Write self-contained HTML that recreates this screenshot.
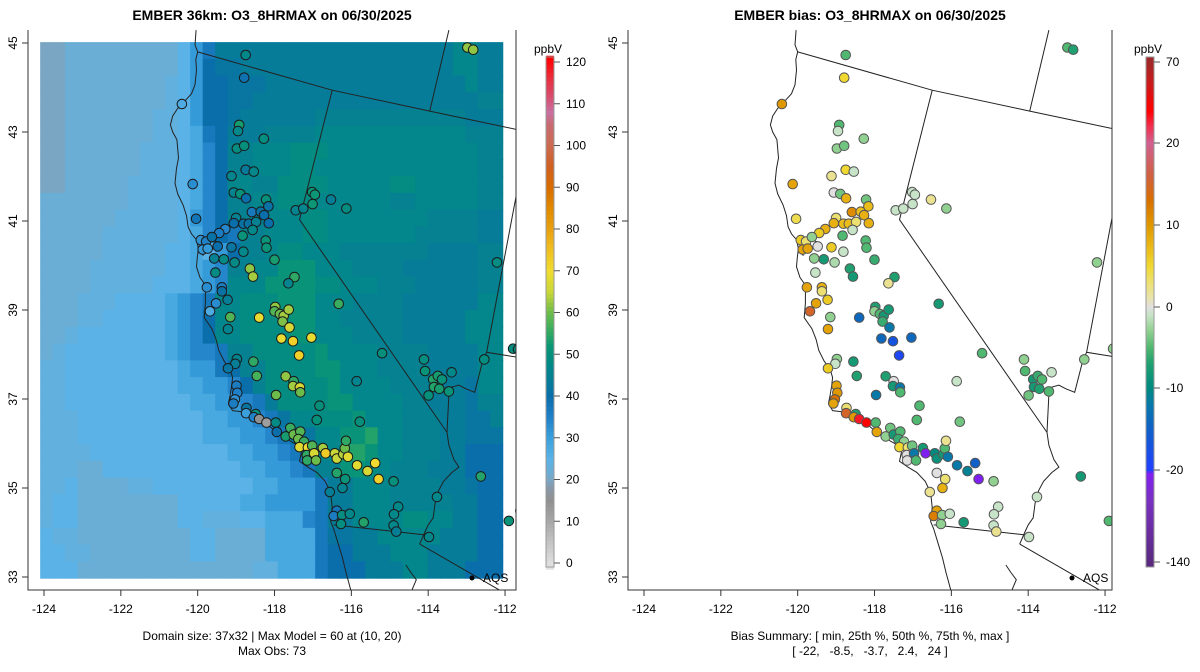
<!DOCTYPE html>
<html><head><meta charset="utf-8"><style>
html,body{margin:0;padding:0;background:#fff;}
svg{display:block;font-family:"Liberation Sans",sans-serif;}
</style></head><body>
<svg id="chart" width="1200" height="672" viewBox="0 0 1200 672" xmlns="http://www.w3.org/2000/svg">
<defs>
<clipPath id="clipL"><rect x="28" y="30" width="488" height="560"/></clipPath>
<clipPath id="clipR"><rect x="628" y="30" width="484" height="560"/></clipPath>
</defs>
<text x="272" y="20" text-anchor="middle" font-weight="bold" font-size="14">EMBER 36km: O3_8HRMAX on 06/30/2025</text>
<text x="870" y="20" text-anchor="middle" font-weight="bold" font-size="14">EMBER bias: O3_8HRMAX on 06/30/2025</text>
<g id="left" clip-path="url(#clipL)"></g>
<g id="right" clip-path="url(#clipR)"></g>
<g id="axes"></g>
<g id="cbars"></g>
<text x="272" y="640" text-anchor="middle" font-size="12">Domain size: 37x32 | Max Model = 60 at (10, 20)</text>
<text x="272" y="655" text-anchor="middle" font-size="12">Max Obs: 73</text>
<text x="870" y="640" text-anchor="middle" font-size="12">Bias Summary: [ min, 25th %, 50th %, 75th %, max ]</text>
<text x="870" y="655" text-anchor="middle" font-size="12" xml:space="preserve">[ -22,   -8.5,   -3.7,   2.4,   24 ]</text>
</svg>
<script>
const gridRows = [
"a2b9d1f1h1k19m2k2","a2b9d1f1i1j2k17m2k2","a2b8c1d1f1i2j3k16m1k2","a2b8c1d1f1i2j2k18l2",
"a2b7c2d1f1i2j1k6l12k3","a2b7c2d1e1h1i1k3l4m12l3","a2b6c3d1e1g1i1l2m3n3m12l2","a2b6c3d1e1g1i1l2m3n2m13l2",
"a2b5c4d1e1g1i1m2l2n4m5n2m5l2","b7c4d1e1g1i1l2m2n3m6l2m5l2","b6c5d1f1g1i1l3m3n2m8l4k2","b5c6d1e1g1i1h1l2m3n2m7l5k2",
"b5c5d2e1d1f1i1l2m1n2m3l7k4l2","b4c6d2e1f1g1l2m2o3m3l4k6l2","b4c5d3e1f1g1m3o4n2m3l3k5l2","b3c3d4e1f1g1h1m2n3o3m3l4k6m2",
"b3c2d5e1f1g1i1m2n4o2m2l5k5m3","b2c1d7e1f1g1i1m2n4o2m3l4k5m3","b1c1d8e1f1g2h1l2n5o1m4l4k4m2","c2d9e1f2h1i1l2n4o2m3l4k4m2",
"c2d9e2f2g1i1l1n5o1m4l3k3j1m2","c2d10e2f2g1h1k1n4o2m4l2k3j1l2","c3d10e2f2g1h1j1m2n3o1m3l3k2j2l1","c3d10e3f2g1h1j2m2o2p1m2l3k2j3",
"c4d11e2f2g1h1k1m2p2o1m2l3k2i3","c3b2d11e2f2g1h1l2o2n1m1l3k3i3","c2d1b4c2d8e2f3h1k2m3l4k2j1i2","c1d2b8d5e2f4h1k2m3l5k2i2",
"c1d2b8d2c3d2e3g1h1k2m4n2m2k2i2","d1c2b9d2b4e4h1j2k2m5k3i2","d2c2b8d2b4e4h1i2k3m3k4i2","d3b1b8b5c2e3h1i3k3m2k3i3"
];
const codeVals = {a:20,b:22,c:23.5,d:25,e:28,f:31,g:34,h:37,i:40,j:42,k:43.5,l:45,m:46.5,n:48.5,o:51,p:54,q:58};
const stLon = [-118.75,-118.79,-120.41,-118.92,-118.95,-118.28,-118.98,-118.79,-118.75,-118.54,-119.12,-120.13,-119.06,-118.89,-118.74,-118.22,-120.04,-118.59,-118.36,-118.16,-118.27,-119.0,-119.06,-118.81,-118.67,-118.48,-118.15,-118.57,-119.28,-119.44,-119.92,-119.78,-119.63,-119.87,-119.74,-119.48,-119.12,-118.81,-118.83,-118.23,-118.21,-119.57,-119.32,-119.04,-118.0,-119.54,-118.64,-118.56,-117.48,-117.64,-119.76,-119.37,-119.37,-119.22,-119.52,-119.68,-119.15,-119.21,-118.4,-117.98,-118.0,-117.86,-117.76,-117.63,-117.79,-117.61,-117.82,-117.52,-117.04,-117.36,-116.33,-115.2,-118.98,-119.02,-119.21,-118.55,-118.46,-117.71,-117.5,-117.52,-117.34,-117.33,-117.96,-118.99,-118.97,-119.03,-119.07,-118.73,-118.74,-118.49,-118.54,-118.4,-118.21,-117.97,-117.94,-117.71,-117.59,-117.5,-117.33,-117.38,-117.23,-117.35,-117.13,-117.02,-117.16,-117.15,-116.97,-116.92,-116.74,-116.67,-116.43,-116.38,-116.21,-116.17,-116.14,-116.09,-115.85,-115.38,-115.58,-115.29,-116.38,-116.16,-116.23,-114.9,-116.56,-115.86,-116.83,-116.9,-115.78,-116.38,-116.46,-116.24,-116.04,-116.27,-115.68,-114.78,-114.89,-114.9,-114.83,-113.98,-113.77,-112.63,-111.9,-111.6,-114.11,-114.08,-113.87,-113.75,-113.64,-113.85,-113.71,-113.46,-113.39,-113.99,-112.54,-111.79,-111.66,-112.21,-112.98,-112.83,-117.45,-117.25,-117.02,-117.01,-116.95,-116.53,-116.13];
const stLat = [44.73,44.22,43.63,43.16,43.02,42.85,42.63,42.69,42.15,42.11,42.01,41.83,41.64,41.61,41.51,41.48,41.05,41.2,41.21,41.33,41.13,41.07,40.95,40.94,40.94,40.98,40.95,40.8,40.82,40.73,40.57,40.54,40.64,40.36,40.38,40.43,40.41,40.31,40.67,40.56,40.40,40.16,40.14,40.07,40.13,39.84,39.93,39.75,39.74,39.6,39.51,39.51,39.42,39.23,39.15,38.97,38.84,38.57,38.83,39.07,38.97,38.91,38.87,39.01,38.74,38.61,38.36,38.30,38.38,37.98,39.14,38.03,37.9,37.79,37.69,37.84,37.52,37.51,37.4,37.29,37.26,37.15,37.09,37.3,37.14,36.99,36.9,36.8,36.68,36.66,36.59,36.55,36.47,36.47,36.26,36.16,36.35,36.2,36.27,36.1,36.04,35.92,35.91,35.95,35.74,35.62,35.78,35.62,35.9,35.78,35.78,35.66,35.76,35.89,36.06,35.7,35.51,35.56,35.38,35.2,35.34,35.2,35.0,35.15,34.91,37.4,36.85,36.53,36.49,34.49,34.37,34.39,34.42,34.19,34.23,34.58,34.41,34.16,34.02,33.9,34.8,35.26,34.26,34.49,37.89,37.63,37.44,37.52,37.44,37.27,37.23,37.17,37.6,37.08,37.89,38.13,38.12,40.07,44.9,44.85,41.24,41.28,41.65,41.38,41.59,41.48,41.28];
const stObs = [47,39,27,53,47,49,49,50,43,47,46,33,46,50,40,50,38,37,41,41,40,45,40,41,41,45,40,47,34,36,32,35,41,31,31,40,42,47,51,51,51,45,48,48,53,48,62,63,55,46,33,36,41,44,33,27,58,46,69,62,58,60,63,63,61,67,69,72,69,72,56,50,46,44,42,55,57,62,55,63,67,60,60,36,35,32,36,42,30,50,35,15,12,48,40,53,56,60,58,60,56,68,70,58,55,55,67,60,63,73,65,65,64,60,55,68,68,70,67,72,54,51,46,50,44,46,50,50,50,38,36,49,47,49,54,47,47,47,44,47,47,54,51,53,49,51,54,53,51,54,53,51,47,50,49,49,50,49,62,62,46,46,52,52,52,44,49];
const stBias = [-5,5,10,-5,-1,-3,-3,-4,5,-1,2,9,0,-4,8,-4,4,11,7,7,8,3,8,7,7,3,8,-1,8,6,6,3,-3,9,9,0,6,-1,-5,-5,-5,-3,-8,-2,-6,-1,-7,-8,-7,2,9,8,3,6,9,15,-3,9,-14,-7,-3,-5,-8,-8,-6,-12,-14,-17,-14,-19,-8,-5,-3,-1,6,-8,-7,-7,0,-8,-12,-5,-12,9,10,13,9,3,15,-7,10,35,40,-5,9,-3,-4,-8,-5,-6,-3,5,3,-4,0,0,-12,-5,-8,-25,-10,-9,-8,-5,2,-12,-12,-15,-11,-25,0,3,8,-3,2,-1,-5,-5,-4,9,12,-3,-1,-3,-8,-1,-1,-1,2,-1,-1,-8,-5,-8,-3,-5,-8,-6,-5,-8,-7,-5,-1,-4,-3,-3,-5,-3,-5,-7,-1,-1,-1,-1,-1,2,-3];
const xTickVals = [-124,-122,-120,-118,-116,-114,-112];
const yTickVals = [45,43,41,39,37,35,33];
const obsTicks = [0,10,20,30,40,50,60,70,80,90,100,110,120];
const biasTicks = [70,20,10,0,-10,-20,-140];

const coast = [[-120.04,45.29],[-120.07,44.96],[-120.0,44.8],[-120.05,44.63],[-120.03,44.39],[-120.07,44.06],[-120.16,43.86],[-120.34,43.69],[-120.52,43.53],[-120.65,43.36],[-120.71,43.16],[-120.65,43.0],[-120.54,42.83],[-120.5,42.42],[-120.55,42.18],[-120.59,41.85],[-120.52,41.61],[-120.38,41.36],[-120.29,41.12],[-120.25,40.87],[-120.16,40.71],[-120.03,40.58],[-119.98,40.38],[-120.01,40.18],[-120.03,39.97],[-119.94,39.73],[-119.8,39.56],[-119.8,39.15],[-119.83,38.83],[-119.63,38.58],[-119.52,38.34],[-119.45,38.09],[-119.31,37.85],[-119.16,37.68],[-119.09,37.48],[-119.12,37.27],[-119.16,37.07],[-119.2,36.9],[-119.09,36.74],[-118.73,36.7],[-118.38,36.54],[-118.11,36.37],[-117.88,36.21],[-117.66,36.09],[-117.39,35.96],[-117.3,35.8],[-117.35,35.6],[-117.13,35.47],[-116.9,35.35],[-116.68,35.15],[-116.54,34.9],[-116.5,34.57],[-116.54,34.25],[-116.46,34.08],[-116.32,33.68],[-116.23,33.43],[-116.14,33.1],[-116.01,32.69]];
const borders = [
[[-120.0,44.8],[-116.5,43.94],[-113.96,43.47],[-111.61,43.04]],
[[-113.46,45.29],[-113.96,43.47]],
[[-116.5,43.94],[-117.35,41.03],[-113.51,36.25],[-113.46,35.96],[-113.33,35.64],[-113.2,35.47],[-113.38,35.35],[-113.6,35.15],[-113.73,34.94],[-113.82,34.66],[-113.87,34.33],[-114.0,34.17],[-114.09,34.0],[-114.22,33.74]],
[[-116.46,34.17],[-114.0,33.94]],
[[-114.22,33.74],[-111.95,32.61]],
[[-111.61,42.02],[-112.48,38.05],[-111.61,37.93]],
[[-112.48,38.05],[-112.57,37.89],[-112.79,37.15],[-113.02,37.23],[-113.2,37.31],[-113.38,37.27],[-113.46,37.11],[-113.51,36.25]],
[[-120.03,40.58],[-119.8,40.6],[-119.55,40.55],[-119.4,40.5]],
[[-119.98,40.38],[-119.85,40.22]],
[[-114.58,33.27],[-114.45,33.1],[-114.31,32.94],[-114.54,32.47]]
];

const NS = 'http://www.w3.org/2000/svg';
function mk(tag, attrs, parent){const e=document.createElementNS(NS,tag);for(const k in attrs)e.setAttribute(k,attrs[k]);parent.appendChild(e);return e;}
const X = (lon, off) => off + 44 + (lon + 124) * 38.42;
const Y = lat => 43 + (45 - lat) * 44.5;

function hex(c){return [parseInt(c.slice(1,3),16),parseInt(c.slice(3,5),16),parseInt(c.slice(5,7),16)];}
function interp(stops, v){
  if(v<=stops[0][0]) return stops[0][1];
  if(v>=stops[stops.length-1][0]) return stops[stops.length-1][1];
  for(let i=1;i<stops.length;i++){ if(v<=stops[i][0]){const a=stops[i-1],b=stops[i];const t=(v-a[0])/(b[0]-a[0]);const ca=hex(a[1]),cb=hex(b[1]);return 'rgb('+ca.map((x,k)=>Math.round(x+(cb[k]-x)*t)).join(',')+')';}}
}
const obsStops=[[-2,'#e6e6e6'],[0,'#dedede'],[5,'#c4c4c4'],[10,'#a8a8a8'],[15,'#909090'],[18,'#8898a8'],[20,'#7aa6c4'],[22,'#6aaed6'],[25,'#5ab2e6'],[28,'#48a8e0'],[30,'#3aa0dc'],[35,'#2080c8'],[40,'#0a6eaa'],[44,'#067e96'],[47,'#02878a'],[50,'#06907c'],[52,'#0c9676'],[55,'#2ea864'],[60,'#6cbc4c'],[65,'#c8d638'],[70,'#f0dc30'],[75,'#f0c020'],[80,'#e8a010'],[85,'#e08a00'],[90,'#d86c00'],[95,'#d06020'],[100,'#cc6a50'],[105,'#c86a70'],[108,'#c870a0'],[112,'#d84c6c'],[116,'#e83040'],[121,'#ff0000']];
const biasStops=[[-140,'#5a2a80'],[-60,'#7a30c0'],[-25,'#8020f0'],[-20,'#2040ff'],[-15,'#1060c8'],[-12,'#0878a8'],[-10,'#008a80'],[-7,'#20a070'],[-5,'#50b870'],[-3,'#90d090'],[-1,'#c8e4c8'],[0,'#e0e0e0'],[1,'#e8e4b0'],[3,'#ece070'],[5,'#f0d830'],[8,'#e8b010'],[10,'#e09800'],[13,'#d87000'],[16,'#d06040'],[20,'#d06090'],[30,'#f03050'],[40,'#ff0000'],[55,'#d01818'],[70,'#a02828']];
const obsColor = v => interp(obsStops, v);
const biasColor = v => interp(biasStops, v);

const L = document.getElementById('left'), R = document.getElementById('right');
const lon0=-124.1, dLon=12.5/38.42, lat0=45.02, dLat=16.75/44.5;
const rasterG = mk('g',{},L);


gridRows.forEach((rle,j)=>{
  const cells=[]; const re=/([a-z])(\d+)/g; let m;
  while((m=re.exec(rle))){for(let k=0;k<+m[2];k++)cells.push(codeVals[m[1]]);}
  cells.slice(0,37).forEach((v,i)=>{
    const x1=X(lon0+i*dLon,0), x2=X(lon0+(i+1)*dLon,0), y1=Y(lat0-j*dLat), y2=Y(lat0-(j+1)*dLat);
    const r=mk('rect',{x:x1.toFixed(2),y:y1.toFixed(2),width:(x2-x1+0.6).toFixed(2),height:(y2-y1+0.6).toFixed(2),fill:obsColor(v)},rasterG);
    
    
  });
});
function drawLines(parent, off){
  const pts = a => a.map(p=>X(p[0],off).toFixed(1)+','+Y(p[1]).toFixed(1)).join(' ');
  const c=mk('polyline',{points:pts(coast),fill:'none',stroke:'#222','stroke-width':1},parent);
  
  
  borders.forEach(b=>{
    const l=mk('polyline',{points:pts(b),fill:'none',stroke:'#222','stroke-width':1},parent);
    
    
  });
}
drawLines(L,0); drawLines(R,600);
const n=Math.min(stLon.length,stLat.length,stObs.length,stBias.length);
for(let i=0;i<n;i++){
  const c=mk('circle',{cx:X(stLon[i],0).toFixed(1),cy:Y(stLat[i]).toFixed(1),r:4.8,fill:obsColor(stObs[i]),stroke:'#1a1a1a','stroke-width':1},L);
  
  
}
for(let i=0;i<n;i++){
  const c=mk('circle',{cx:X(stLon[i],600).toFixed(1),cy:Y(stLat[i]).toFixed(1),r:4.8,fill:biasColor(stBias[i]),stroke:'#555','stroke-width':1},R);
  
  
}
[0,600].forEach(off=>{
  const d=mk('circle',{cx:472+off,cy:578,r:2.5,fill:'#000'},document.getElementById('chart'));
  
  
  const t=mk('text',{x:483+off,y:582,'font-size':12},document.getElementById('chart'));
  t.textContent='AQS';
  
  
});
const A=document.getElementById('axes');
[0,600].forEach(off=>{
  const left=28+off, right=(off?1112:516);
  const fr=mk('polyline',{points:`${left},30 ${left},590 ${right},590 ${right},30`,fill:'none',stroke:'#333','stroke-width':1},A);
  
  
  xTickVals.forEach(v=>{
    const x=X(v,off);
    mk('line',{x1:x,x2:x,y1:590,y2:596,stroke:'#333'},A);
    const t=mk('text',{x:x,y:613,'text-anchor':'middle','font-size':12},A);
    t.textContent=v;
    
    
  });
  yTickVals.forEach(v=>{
    const y=Y(v);
    mk('line',{x1:left-6,x2:left,y1:y,y2:y,stroke:'#333'},A);
    const t=mk('text',{x:0,y:0,'text-anchor':'middle','font-size':12,transform:`translate(${left-11},${y}) rotate(-90)`},A);
    t.textContent=v;
    
    
  });
});
const C=document.getElementById('cbars');
const obsY = v => 563 - v*(501/120);
for(let v=-1.5; v<121.5; v+=1){
  const r=mk('rect',{x:546,y:(obsY(v+1)).toFixed(2),width:8,height:(501/120+0.5).toFixed(2),fill:obsColor(v+0.5)},C);
  
  
}
mk('rect',{x:546,y:57,width:8,height:510,fill:'none',stroke:'#999'},C);
obsTicks.forEach(v=>{
  const y=obsY(v);
  mk('line',{x1:554,x2:560,y1:y,y2:y,stroke:'#555'},C);
  const t=mk('text',{x:566,y:y+4,'font-size':12},C);
  t.textContent=v;
  
  
});
const biasTickY=[62,143,225,307,388,470,562];
function biasValAtY(y){
  for(let i=1;i<biasTickY.length;i++){ if(y<=biasTickY[i]||i===biasTickY.length-1){const t=(y-biasTickY[i-1])/(biasTickY[i]-biasTickY[i-1]);return biasTicks[i-1]+(biasTicks[i]-biasTicks[i-1])*t;}}
}
for(let y=57;y<567;y+=2){
  const r=mk('rect',{x:1146,y:y,width:8,height:2.5,fill:biasColor(biasValAtY(y+1))},C);
  
  
}
mk('rect',{x:1146,y:57,width:8,height:510,fill:'none',stroke:'#999'},C);
biasTicks.forEach((v,i)=>{
  const y=biasTickY[i];
  mk('line',{x1:1154,x2:1160,y1:y,y2:y,stroke:'#555'},C);
  const t=mk('text',{x:1166,y:y+4,'font-size':12},C);
  t.textContent=v;
  
  
});
[[548,'obs-colorbar-title'],[1148,'bias-colorbar-title']].forEach(([x,nm])=>{
  const t=mk('text',{x:x,y:53,'text-anchor':'middle','font-size':12},C);
  t.textContent='ppbV';
  
  
});
</script>
</body></html>
